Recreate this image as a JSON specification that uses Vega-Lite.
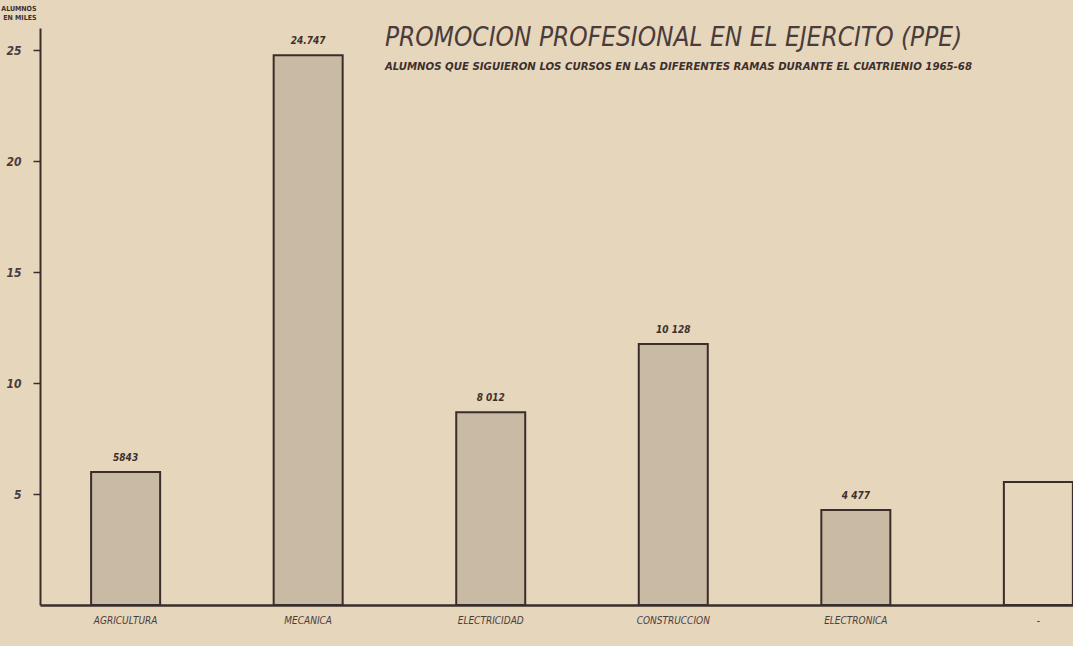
{
  "$schema": "https://vega.github.io/schema/vega-lite/v6.json",
  "width": 1033,
  "height": 577,
  "autosize": {"type": "none"},
  "padding": {"left": 40, "top": 28, "right": 0, "bottom": 41},
  "background": "#e6d6bc",
  "config": {"view": {"stroke": null}, "font": "DejaVu Sans Condensed"},
  "title": {
    "text": "PROMOCION PROFESIONAL EN EL EJERCITO (PPE)",
    "subtitle": "ALUMNOS QUE SIGUIERON LOS CURSOS EN LAS DIFERENTES RAMAS DURANTE EL CUATRIENIO 1965-68",
    "anchor": "start",
    "frame": "group",
    "dx": 345,
    "offset": -68,
    "fontSize": 26,
    "fontStyle": "italic",
    "fontWeight": "normal",
    "color": "#4a3c3a",
    "subtitleFontSize": 11.3,
    "subtitleFontStyle": "italic",
    "subtitleFontWeight": "bold",
    "subtitleColor": "#3d302c",
    "subtitlePadding": 10
  },
  "data": {
    "values": [
      {"rama": "AGRICULTURA", "miles": 5.99, "etiqueta": "5843"},
      {"rama": "MECANICA", "miles": 24.77, "etiqueta": "24.747"},
      {"rama": "ELECTRICIDAD", "miles": 8.69, "etiqueta": "8 012"},
      {"rama": "CONSTRUCCION", "miles": 11.76, "etiqueta": "10 128"},
      {"rama": "ELECTRONICA", "miles": 4.28, "etiqueta": "4 477"},
      {"rama": "-", "miles": 5.54, "etiqueta": ""}
    ]
  },
  "encoding": {
    "x": {
      "field": "rama",
      "type": "nominal",
      "sort": null,
      "scale": {"range": [0, 1084], "paddingInner": 0.622, "paddingOuter": 0.28},
      "axis": {
        "title": null,
        "labelAngle": 0,
        "ticks": false,
        "domainColor": "#3a2e2c",
        "domainWidth": 2.5,
        "labelPadding": 10,
        "labelFontSize": 10,
        "labelFontStyle": "italic",
        "labelColor": "#4a3c3a"
      }
    },
    "y": {
      "field": "miles",
      "type": "quantitative",
      "scale": {"domain": [0, 26], "nice": false},
      "axis": {
        "values": [5, 10, 15, 20, 25],
        "grid": false,
        "domainColor": "#3a2e2c",
        "domainWidth": 2,
        "tickColor": "#3a2e2c",
        "tickWidth": 1.5,
        "tickSize": 7,
        "labelFontSize": 12,
        "labelFontStyle": "italic",
        "labelFontWeight": "bold",
        "labelColor": "#4a3c3a",
        "labelPadding": 12,
        "title": ["ALUMNOS", "EN MILES"],
        "titleAngle": 0,
        "titleAlign": "right",
        "titleBaseline": "top",
        "titleX": -4,
        "titleY": -24,
        "titleFontSize": 7,
        "titleFontWeight": "bold",
        "titleColor": "#3d302c",
        "titleLineHeight": 9
      }
    }
  },
  "layer": [
    {
      "mark": {"type": "bar", "stroke": "#3a2e2c", "strokeWidth": 2},
      "encoding": {
        "fill": {
          "condition": {"test": "datum.rama === '-'", "value": "#e6d6bc"},
          "value": "#c8baa3"
        }
      }
    },
    {
      "mark": {"type": "text", "dy": -9, "fontSize": 10, "fontStyle": "italic", "fontWeight": "bold", "color": "#3d302c", "baseline": "bottom"},
      "encoding": {"text": {"field": "etiqueta"}}
    }
  ]
}
